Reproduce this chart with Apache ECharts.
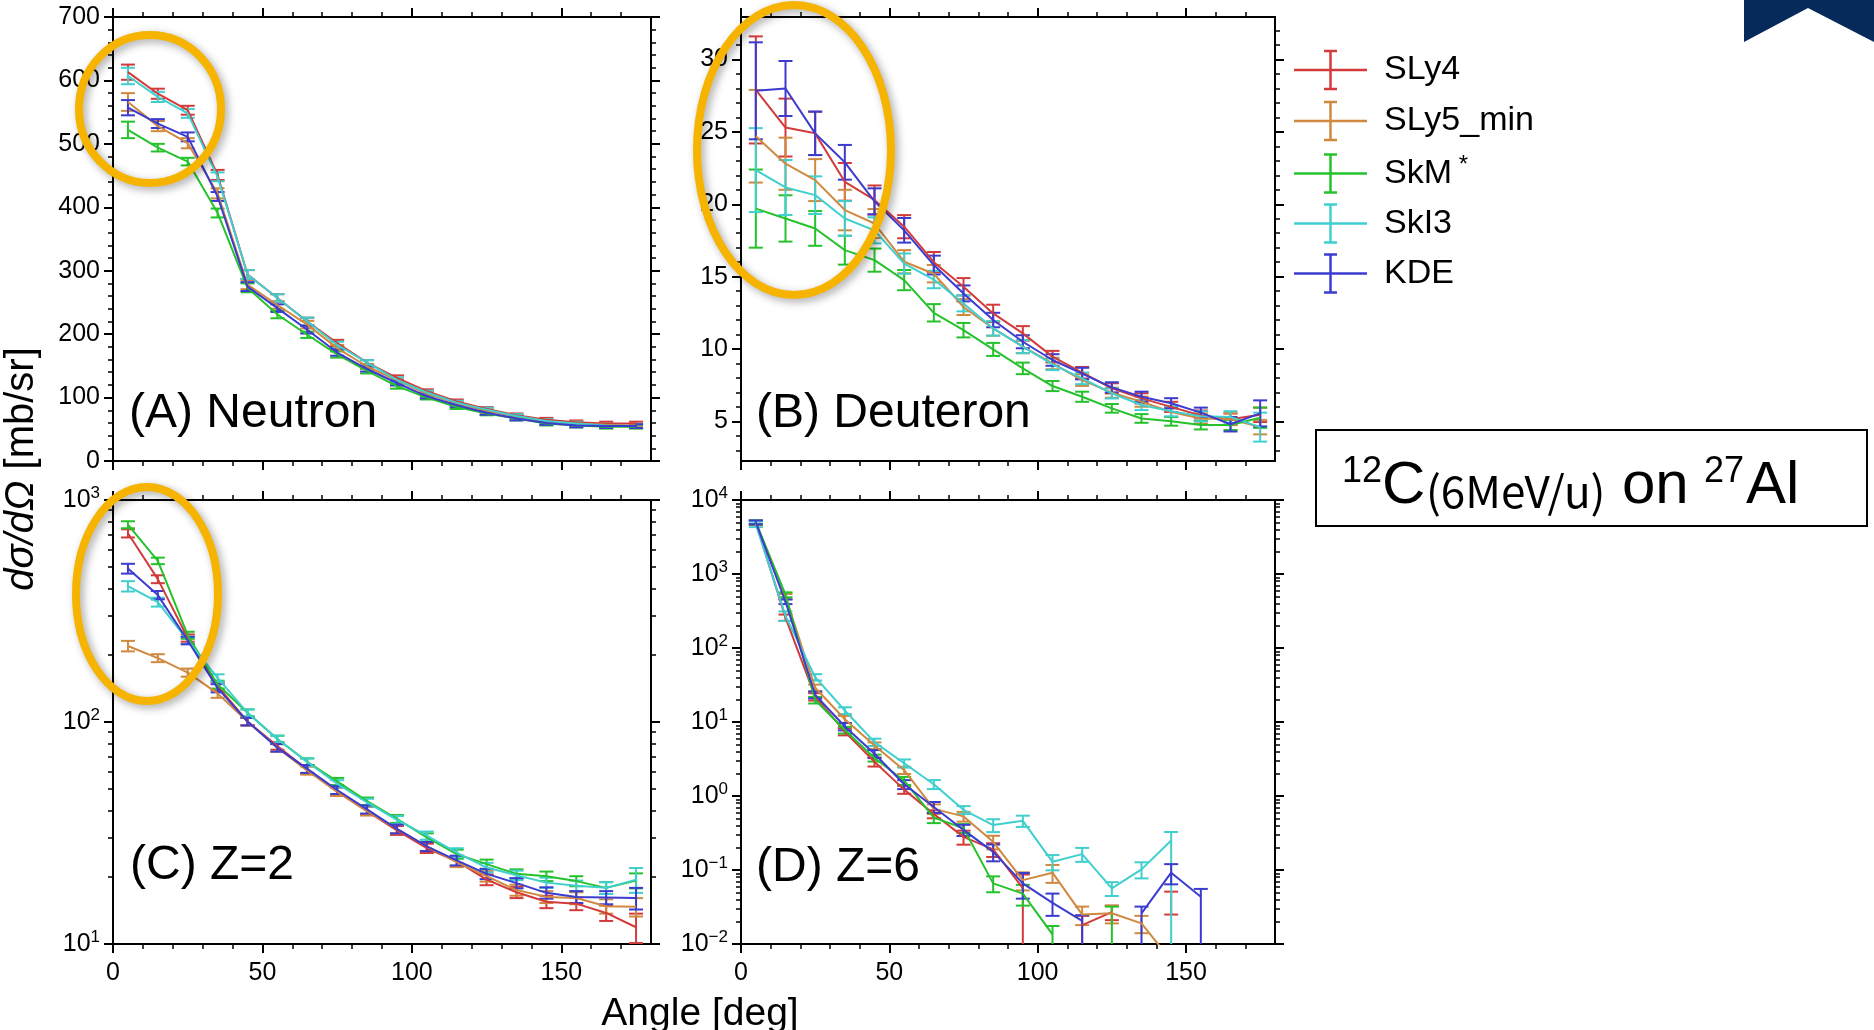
<!DOCTYPE html>
<html><head><meta charset="utf-8">
<script src="https://cdn.jsdelivr.net/npm/echarts@6/dist/echarts.min.js"></script>
<style>html,body{margin:0;padding:0;background:#fff}#c{width:1874px;height:1030px}</style>
</head><body><div id="c"></div>
<script>
// ---------------- DATA ----------------
const angles = [5, 15, 25, 35, 45, 55, 65, 75, 85, 95, 105, 115, 125, 135, 145, 155, 165, 175];
const models = ['SLy4', 'SLy5_min', 'SkM*', 'SkI3', 'KDE'];

// (A) Neutron
const nSLy4 = [613, 579, 553, 451, 294, 257, 220, 186, 155, 131, 110, 94, 82, 72, 65, 61, 59, 59];
const nSLy5 = [566, 528, 501, 422, 278, 246, 215, 178, 149, 127, 106, 91, 79, 70, 62, 59, 57, 56];
const nSkM  = [522, 494, 472, 391, 273, 231, 199, 168, 142, 118, 100, 85, 75, 67, 59, 56, 54, 54];
const nSkI3 = [607, 574, 548, 448, 294, 257, 220, 183, 155, 128, 108, 92, 81, 71, 63, 59, 56, 55];
const nKDE  = [557, 532, 511, 417, 275, 241, 207, 171, 145, 123, 102, 88, 76, 67, 60, 56, 55, 55];
const nSLy4Err = [12, 8, 7, 8, 7, 6, 6, 5, 4, 4, 3, 3, 3, 3, 3, 3, 3, 3];
const nSLy5Err = [14, 8, 8, 8, 7, 6, 6, 5, 4, 4, 3, 3, 3, 3, 3, 3, 3, 3];
const nSkMErr  = [13, 6, 6, 7, 7, 6, 5, 5, 4, 4, 3, 3, 3, 3, 3, 3, 3, 3];
const nSkI3Err = [13, 8, 7, 7, 7, 6, 6, 5, 4, 4, 3, 3, 3, 3, 3, 3, 3, 3];
const nKDEErr  = [12, 7, 7, 7, 7, 6, 6, 5, 4, 4, 3, 3, 3, 3, 3, 3, 3, 3];

// (B) Deuteron
const dSLy4 = [27.9, 25.3, 24.9, 21.55, 20.3, 18.45, 16.0, 14.3, 12.46, 11.08, 9.47, 8.36, 7.28, 6.59, 6.0, 5.4, 5.15, 5.45];
const dSLy5 = [24.7, 22.8, 21.67, 19.6, 18.67, 16.03, 15.2, 12.9, 11.42, 10.16, 9.0, 7.85, 6.98, 6.36, 5.65, 5.2, 5.14, 4.6];
const dSkM  = [19.7, 19.02, 18.33, 16.83, 16.14, 14.76, 12.5, 11.3, 9.97, 8.66, 7.44, 6.7, 5.9, 5.2, 5.0, 4.74, 4.75, 5.25];
const dSkI3 = [22.36, 21.16, 20.63, 19.02, 18.2, 15.9, 14.8, 13.15, 11.42, 10.16, 8.94, 7.97, 6.93, 6.13, 5.7, 5.35, 5.3, 4.6];
const dKDE  = [27.84, 28.0, 24.9, 22.9, 20.2, 18.2, 15.8, 13.84, 12.0, 10.5, 9.24, 8.3, 7.35, 6.7, 6.25, 5.6, 4.8, 5.55];
const dSLy4Err = [3.7, 2.0, 1.5, 1.3, 1.0, 0.8, 0.7, 0.6, 0.6, 0.5, 0.4, 0.4, 0.35, 0.35, 0.35, 0.35, 0.4, 0.5];
const dSLy5Err = [3.2, 1.8, 1.45, 1.4, 1.0, 0.8, 0.6, 0.55, 0.5, 0.45, 0.4, 0.4, 0.35, 0.35, 0.35, 0.35, 0.4, 0.5];
const dSkMErr  = [2.7, 1.6, 1.2, 1.0, 0.8, 0.7, 0.6, 0.5, 0.45, 0.4, 0.35, 0.35, 0.3, 0.3, 0.3, 0.3, 0.35, 0.7];
const dSkI3Err = [2.9, 1.9, 1.3, 1.2, 0.9, 0.7, 0.6, 0.55, 0.5, 0.45, 0.4, 0.4, 0.35, 0.35, 0.35, 0.35, 0.4, 1.0];
const dKDEErr  = [3.35, 1.9, 1.5, 1.2, 0.9, 0.85, 0.65, 0.55, 0.5, 0.45, 0.4, 0.4, 0.35, 0.35, 0.35, 0.35, 0.5, 0.9];

// (C) Z=2
const aSLy4 = [708, 440, 239, 145, 100.5, 78, 61, 48.5, 39.7, 32.5, 27, 23.6, 19.5, 17.1, 15.5, 15.2, 13.8, 11.9];
const aSLy5 = [220, 194, 167, 134.5, 100.5, 76.5, 60.4, 48.5, 39.7, 33, 27.5, 23.4, 20.2, 17.5, 16.3, 16.1, 14.8, 14.7];
const aSkM  = [774, 532, 246, 147.5, 110, 83.8, 66.1, 54, 44, 36.6, 30.2, 25.4, 22.9, 20.7, 20.2, 19.2, 17.9, 19.3];
const aSkI3 = [409, 347, 233, 158, 110, 83.8, 66, 52.7, 43.4, 36.2, 30.8, 25.8, 22.1, 20.4, 18.9, 18.3, 17.9, 19.5];
const aKDE  = [491, 373, 233, 142, 100.5, 76.5, 61.5, 49.4, 40.4, 33, 27.5, 23.8, 20.7, 18.8, 17.0, 16.3, 16.2, 16.1];
const aSLy4Err = [30, 18, 9, 6, 4, 3, 2.5, 2, 1.7, 1.5, 1.3, 1.2, 1.1, 1.0, 1.0, 1.0, 1.1, 1.8];
const aSLy5Err = [12, 8, 7, 6, 4, 3, 2.5, 2, 1.7, 1.5, 1.3, 1.2, 1.1, 1.0, 1.0, 1.0, 1.1, 1.4];
const aSkMErr  = [28, 18, 9, 6, 4, 3, 2.5, 2, 1.7, 1.5, 1.3, 1.2, 1.1, 1.0, 1.0, 1.0, 1.1, 1.5];
const aSkI3Err = [22, 16, 9, 6, 4, 3, 2.5, 2, 1.7, 1.5, 1.3, 1.2, 1.1, 1.0, 1.0, 1.0, 1.1, 2.5];
const aKDEErr  = [25, 16, 9, 6, 4, 3, 2.5, 2, 1.7, 1.5, 1.3, 1.2, 1.1, 1.0, 1.0, 1.0, 1.1, 1.8];

// (D) Z=6  (null = no entry; [low, high] = asymmetric error)
const cSLy4 = [4900, 258, 22, 7.4, 2.9, 1.22, 0.57, 0.28, 0.19, 0.057, null, 0.018, 0.027, null, 0.038, null, null, null];
const cSLy5 = [5000, 497, 29, 10.9, 4.8, 2.23, 0.67, 0.53, 0.24, 0.073, 0.092, 0.025, 0.026, 0.019, 0.006, null, null, null];
const cSkM  = [5000, 525, 19.8, 7.8, 3.27, 1.61, 0.51, 0.367, 0.066, 0.048, 0.0135, null, 0.02, null, null, null, null, null];
const cSkI3 = [4700, 272, 40.3, 14.3, 5.35, 2.77, 1.44, 0.65, 0.405, 0.462, 0.129, 0.164, 0.0565, 0.102, 0.25, null, null, null];
const cKDE  = [5000, 422, 23.3, 8.7, 3.72, 1.44, 0.71, 0.348, 0.176, 0.066, 0.036, 0.0205, null, 0.026, 0.092, 0.0435, null, null];
const cSLy4Err = [300, 25, 2.5, 0.8, 0.4, 0.15, 0.07, 0.06, 0.04, [0.057, 0.03], null, [0.018, 0.006], 0.006, null, 0.013, null, null, null];
const cSLy5Err = [300, 40, 3, 1.2, 0.5, 0.25, 0.1, 0.08, 0.05, 0.02, 0.025, 0.007, 0.007, 0.005, 0.004, null, null, null];
const cSkMErr  = [300, 40, 2, 0.8, 0.35, 0.2, 0.08, 0.05, 0.016, 0.015, 0.004, null, [0.02, 0.012], null, null, null, null, null];
const cSkI3Err = [400, 40, 4, 1.5, 0.6, 0.35, 0.2, 0.08, 0.08, 0.08, 0.03, 0.035, 0.012, 0.025, [0.25, 0.076], null, null, null];
const cKDEErr  = [300, 30, 2.5, 1, 0.45, 0.2, 0.12, 0.06, 0.045, 0.025, 0.012, [0.02, 0.004], null, [0.026, 0.006], 0.028, [0.0435, 0.012], null, null];

// Tick labels / tick positions
const xMajor = [0, 50, 100, 150];
const xMinor = [10, 20, 30, 40, 60, 70, 80, 90, 110, 120, 130, 140, 160, 170];
const aYMajor = [0, 100, 200, 300, 400, 500, 600, 700];
const aYMinor = [20, 40, 60, 80, 120, 140, 160, 180, 220, 240, 260, 280, 320, 340, 360, 380, 420, 440, 460, 480, 520, 540, 560, 580, 620, 640, 660, 680];
const bYMajor = [5, 10, 15, 20, 25, 30];
const bYMinor = [3, 4, 6, 7, 8, 9, 11, 12, 13, 14, 16, 17, 18, 19, 21, 22, 23, 24, 26, 27, 28, 29, 31, 32];
const cYMajor = [10, 100, 1000];
const cYMinor = [20, 30, 40, 50, 60, 70, 80, 90, 200, 300, 400, 500, 600, 700, 800, 900];
const dYMajor = [0.01, 0.1, 1, 10, 100, 1000, 10000];
const dYMinor = [0.02, 0.03, 0.04, 0.05, 0.06, 0.07, 0.08, 0.09, 0.2, 0.3, 0.4, 0.5, 0.6, 0.7, 0.8, 0.9,
  2, 3, 4, 5, 6, 7, 8, 9, 20, 30, 40, 50, 60, 70, 80, 90, 200, 300, 400, 500, 600, 700, 800, 900,
  2000, 3000, 4000, 5000, 6000, 7000, 8000, 9000];

// ---------------- STYLE / LAYOUT ----------------
const FONT = "'Liberation Sans', Arial, Helvetica, sans-serif";
const colors = ['#d33b3b', '#d0893f', '#25c22b', '#40cfcf', '#3b3bd0'];
const grids = [
  {left: 113, top: 17, width: 538, height: 444},
  {left: 741, top: 17, width: 534, height: 444},
  {left: 113, top: 500, width: 538, height: 444},
  {left: 741, top: 500, width: 534, height: 444}
];
const panels = [
  {type: 'value', min: 0, max: 700, major: aYMajor, minor: aYMinor, xLabels: false,
   vals: [nSLy4, nSLy5, nSkM, nSkI3, nKDE], errs: [nSLy4Err, nSLy5Err, nSkMErr, nSkI3Err, nKDEErr]},
  {type: 'value', min: 2.26, max: 32.94, major: bYMajor, minor: bYMinor, xLabels: false,
   vals: [dSLy4, dSLy5, dSkM, dSkI3, dKDE], errs: [dSLy4Err, dSLy5Err, dSkMErr, dSkI3Err, dKDEErr]},
  {type: 'log', min: 10, max: 1000, major: cYMajor, minor: cYMinor, xLabels: true,
   vals: [aSLy4, aSLy5, aSkM, aSkI3, aKDE], errs: [aSLy4Err, aSLy5Err, aSkMErr, aSkI3Err, aKDEErr]},
  {type: 'log', min: 0.01, max: 10000, major: dYMajor, minor: dYMinor, xLabels: true,
   vals: [cSLy4, cSLy5, cSkM, cSkI3, cKDE], errs: [cSLy4Err, cSLy5Err, cSkMErr, cSkI3Err, cKDEErr]}
];

const richLab = {
  b: {fontSize: 25, fontFamily: FONT, color: '#000', lineHeight: 30},
  s: {fontSize: 17, fontFamily: FONT, color: '#000', lineHeight: 17, verticalAlign: 'top'}
};
function logFmt(v) {
  const e = Math.round(Math.log10(v));
  return '{b|10}{s|' + (e < 0 ? '\u2212' + (-e) : e) + '}';
}

const xAxes = [], yAxes = [];
function addAxes(list, gi, pos, type, min, max, majors, minors, showLabels, fmt, margin) {
  const base = {gridIndex: gi, type: type, min: min, max: max, position: pos,
    splitLine: {show: false}, silent: true, axisPointer: {show: false}};
  if (type === 'log') base.logBase = 10;
  list.push(Object.assign({}, base, {
    axisLine: {show: true, onZero: false, lineStyle: {color: '#000', width: 2}},
    axisTick: {show: true, inside: false, length: 9, customValues: majors, lineStyle: {color: '#000', width: 2}},
    axisLabel: showLabels ? {show: true, customValues: majors, formatter: fmt, margin: margin || 13,
      color: '#000', fontFamily: FONT, fontSize: 25, rich: richLab} : {show: false}
  }));
  list.push(Object.assign({}, base, {
    axisLine: {show: false, onZero: false},
    axisTick: {show: true, inside: false, length: 5, customValues: minors, lineStyle: {color: '#000', width: 1.5}},
    axisLabel: {show: false}
  }));
}

const series = [];
function errorBars(gi, color, vals, errs, yMin, yMax) {
  const data = [];
  vals.forEach(function (v, i) {
    if (v == null || errs[i] == null) return;
    const e = errs[i];
    const lo = Array.isArray(e) ? e[0] : e, hi = Array.isArray(e) ? e[1] : e;
    data.push([angles[i], v, v - lo, v + hi]);
  });
  return {
    type: 'custom', xAxisIndex: gi * 4, yAxisIndex: gi * 4, data: data, clip: true,
    silent: true, animation: false, encode: {x: 0, y: 1},
    renderItem: function (params, api) {
      const x = api.value(0);
      let lo = api.value(2), hi = api.value(3);
      const loC = lo <= yMin, hiC = hi >= yMax;
      if (loC) lo = yMin;
      if (hiC) hi = yMax;
      if (hi <= yMin || lo >= yMax) return null;
      const p1 = api.coord([x, lo]), p2 = api.coord([x, hi]);
      const st = {stroke: color, lineWidth: 2};
      const ch = [{type: 'line', shape: {x1: p1[0], y1: p1[1], x2: p2[0], y2: p2[1]}, style: st}];
      if (!loC) ch.push({type: 'line', shape: {x1: p1[0] - 7, y1: p1[1], x2: p1[0] + 7, y2: p1[1]}, style: st});
      if (!hiC) ch.push({type: 'line', shape: {x1: p2[0] - 7, y1: p2[1], x2: p2[0] + 7, y2: p2[1]}, style: st});
      return {type: 'group', children: ch};
    }
  };
}

panels.forEach(function (p, gi) {
  addAxes(xAxes, gi, 'bottom', 'value', 0, 180, xMajor, xMinor, p.xLabels, function (v) { return String(v); }, 17);
  addAxes(xAxes, gi, 'top', 'value', 0, 180, xMajor, xMinor, false);
  const fmt = p.type === 'log' ? logFmt : function (v) { return String(v); };
  addAxes(yAxes, gi, 'left', p.type, p.min, p.max, p.major, p.minor, true, fmt, 13);
  addAxes(yAxes, gi, 'right', p.type, p.min, p.max, p.major, p.minor, false);
  p.vals.forEach(function (vals, m) {
    series.push({
      type: 'line', name: models[m], xAxisIndex: gi * 4, yAxisIndex: gi * 4,
      data: angles.map(function (a, i) { return [a, vals[i] == null ? '-' : vals[i]]; }),
      symbol: 'none', showSymbol: false, connectNulls: false, clip: true, silent: true, animation: false,
      lineStyle: {color: colors[m], width: 2}, itemStyle: {color: colors[m]}
    });
    series.push(errorBars(gi, colors[m], vals, p.errs[m], p.min, p.max));
  });
});

// ---------------- DECORATION (graphic) ----------------
const graphic = [];
function txt(x, y, text, size, opts) {
  const st = Object.assign({text: text, fontSize: size, fontFamily: FONT, fill: '#000',
    align: 'left', verticalAlign: 'middle', textAlign: 'left', textVerticalAlign: 'middle'}, opts || {});
  return {type: 'text', x: x, y: y, z: 50, silent: true, style: st};
}
// panel labels
graphic.push(txt(129, 414, '(A) Neutron', 48));
graphic.push(txt(756, 414, '(B) Deuteron', 48));
graphic.push(txt(130, 866, '(C) Z=2', 48));
graphic.push(txt(756, 868, '(D) Z=6', 48));
// axis titles
graphic.push({type: 'text', x: 22, y: 469, rotation: Math.PI / 2, z: 50, silent: true,
  style: {text: '{i|d\u03c3/d\u03a9} [mb/sr]', fontSize: 40, fontFamily: FONT, fill: '#000',
    align: 'center', verticalAlign: 'middle', textAlign: 'center', textVerticalAlign: 'middle',
    rich: {i: {fontStyle: 'italic', fontSize: 40, fontFamily: FONT, fill: '#000', color: '#000'}}}});
graphic.push(txt(700, 1014, 'Angle [deg]', 39, {align: 'center', textAlign: 'center'}));
// legend
const legendRows = [70, 121, 173.5, 223.5, 273.5];
models.forEach(function (m, i) {
  const y = legendRows[i], c = colors[i];
  const st = {stroke: c, lineWidth: 2.5};
  graphic.push({type: 'line', z: 50, silent: true, shape: {x1: 1294, y1: y, x2: 1367, y2: y}, style: st});
  graphic.push({type: 'line', z: 50, silent: true, shape: {x1: 1330.5, y1: y - 19, x2: 1330.5, y2: y + 19}, style: st});
  graphic.push({type: 'line', z: 50, silent: true, shape: {x1: 1324, y1: y - 19, x2: 1337, y2: y - 19}, style: st});
  graphic.push({type: 'line', z: 50, silent: true, shape: {x1: 1324, y1: y + 19, x2: 1337, y2: y + 19}, style: st});
  if (m === 'SkM*') {
    graphic.push(txt(1384, y, '{n|SkM}{s| *}', 34, {rich: {
      n: {fontSize: 34, fontFamily: FONT, fill: '#000', color: '#000', lineHeight: 40},
      s: {fontSize: 24, fontFamily: FONT, fill: '#000', color: '#000', lineHeight: 24, verticalAlign: 'top'}}}));
  } else {
    graphic.push(txt(1384, y, m, 34));
  }
});
// reaction box
graphic.push({type: 'rect', z: 40, silent: true, shape: {x: 1316, y: 430, width: 551, height: 96},
  style: {fill: '#fff', stroke: '#000', lineWidth: 2}});
graphic.push(txt(1342, 472, '12', 36));
graphic.push(txt(1382, 486, 'C', 60));
graphic.push(txt(1426, 491, '(6MeV/u)', 44, {fontFamily: "'Noto Sans CJK JP', sans-serif"}));
graphic.push(txt(1622, 486, 'on', 60));
graphic.push(txt(1704, 472, '27', 36));
graphic.push(txt(1746, 486, 'Al', 60));
// top-right navy chevron
graphic.push({type: 'polygon', z: 40, silent: true,
  shape: {points: [[1744, 0], [1874, 0], [1874, 42], [1808, 8], [1744, 42]]},
  style: {fill: '#062a5a'}});
// highlight ellipses
[[150, 109, 71, 74], [794, 150, 97, 145], [147, 594, 71, 107]].forEach(function (e) {
  graphic.push({type: 'ellipse', z: 100, silent: true, shape: {cx: e[0], cy: e[1], rx: e[2], ry: e[3]},
    style: {fill: 'none', stroke: '#f6b400', lineWidth: 8, shadowBlur: 8,
      shadowColor: 'rgba(0,0,0,0.35)', shadowOffsetX: 3, shadowOffsetY: 3}});
});

const chart = echarts.init(document.getElementById('c'), null, {renderer: 'canvas'});
chart.setOption({
  backgroundColor: '#fff',
  animation: false,
  grid: grids.map(function (g) { return Object.assign({containLabel: false}, g); }),
  xAxis: xAxes,
  yAxis: yAxes,
  series: series,
  graphic: {elements: graphic}
});
</script>
</body></html>
